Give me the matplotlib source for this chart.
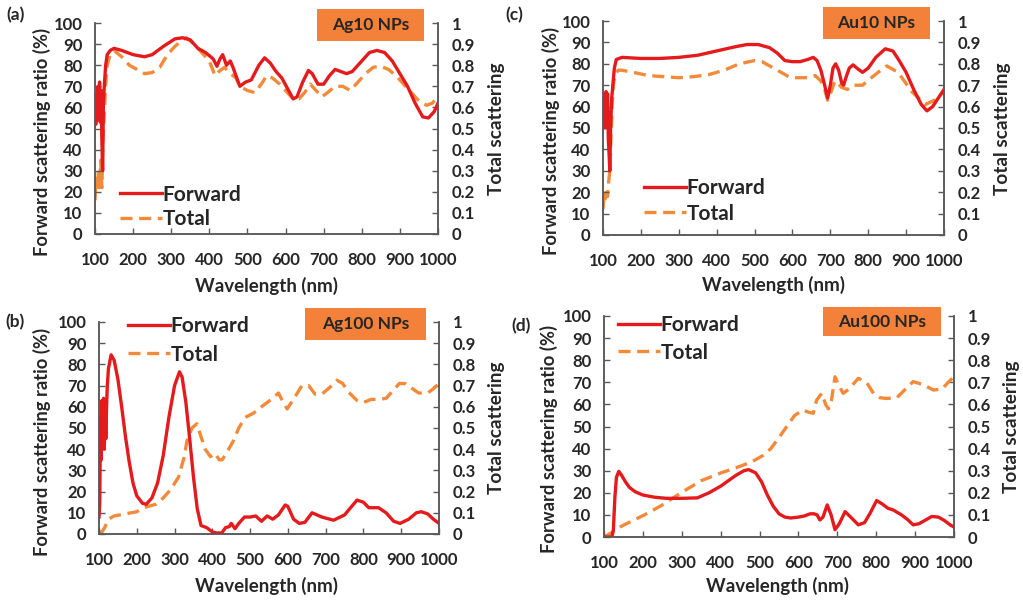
import matplotlib
matplotlib.use("Agg")
import matplotlib.pyplot as plt
from matplotlib.patches import Rectangle
from matplotlib.ticker import FuncFormatter

plt.rcParams['font.family'] = ['Lato', 'DejaVu Sans']

# ---------------- data ----------------
x_ticks = [100, 200, 300, 400, 500, 600, 700, 800, 900, 1000]
left_ticks = [0, 10, 20, 30, 40, 50, 60, 70, 80, 90, 100]
right_ticks = [0, 0.1, 0.2, 0.3, 0.4, 0.5, 0.6, 0.7, 0.8, 0.9, 1.0]

# (a) Ag10 NPs
ag10_fwd_wl = [100, 102, 104, 106, 108, 110, 112, 114, 116, 118, 120, 122, 125, 128, 132, 140, 150, 170, 200, 230,
               250, 280, 310, 330, 350, 370, 390, 410, 420, 428, 435, 445, 455, 462, 470, 480, 495, 510, 530, 545,
               560, 575, 590, 605, 620, 630, 645, 660, 670, 685, 700, 715, 730, 745, 760, 775, 795, 820, 840, 860,
               880, 900, 920, 940, 960, 975, 990, 1000]
ag10_fwd = [60, 52, 66, 54, 70, 57, 72, 53, 68, 45, 30, 62, 72, 80, 85, 87, 88, 87, 85, 84,
            85, 89, 92.5, 93, 92, 88, 86, 83, 79.5, 83, 85, 80, 82, 79, 75, 70, 72, 73, 80, 83.5,
            81, 77, 74, 69, 64, 65, 72, 77.5, 76, 71, 71, 75, 78, 77, 76, 77, 81, 86, 87, 86,
            82, 76, 70, 62, 55.5, 55, 58, 62]
ag10_tot_wl = [100, 103, 106, 109, 112, 115, 118, 121, 124, 127, 132, 140, 150, 170, 190, 210, 230, 250, 270, 290,
               310, 330, 340, 360, 380, 400, 415, 425, 440, 455, 470, 480, 500, 520, 540, 550, 565, 585, 600, 620,
               635, 650, 665, 680, 695, 710, 730, 750, 770, 790, 810, 830, 850, 870, 890, 910, 930, 950, 970, 985, 1000]
ag10_tot = [0.16, 0.26, 0.21, 0.30, 0.22, 0.35, 0.22, 0.45, 0.55, 0.68, 0.80, 0.85, 0.87, 0.84, 0.80, 0.78, 0.76, 0.765, 0.79, 0.85,
            0.89, 0.92, 0.93, 0.90, 0.86, 0.82, 0.75, 0.77, 0.79, 0.76, 0.74, 0.70, 0.68, 0.67, 0.72, 0.75, 0.74, 0.71, 0.68, 0.64,
            0.64, 0.67, 0.71, 0.68, 0.65, 0.67, 0.70, 0.70, 0.68, 0.72, 0.76, 0.79, 0.795, 0.78, 0.75, 0.71, 0.67, 0.63, 0.61, 0.62, 0.65]

# (c) Au10 NPs
au10_fwd_wl = [100, 102, 104, 106, 108, 110, 112, 114, 116, 118, 120, 123, 126, 130, 135, 150, 200, 250, 300, 350,
               400, 450, 480, 510, 540, 560, 580, 600, 620, 640, 655, 665, 675, 685, 693, 700, 707, 714, 722, 730,
               735, 742, 750, 760, 770, 785, 800, 820, 845, 865, 880, 900, 920, 940, 955, 970, 985, 1000]
au10_fwd = [65, 52, 66, 50, 67, 53, 66, 45, 38, 30, 50, 64, 70, 78, 82, 83, 82.5, 82.5, 83, 84,
            86, 88, 89, 89, 87.5, 85, 81.5, 81, 81, 82, 83, 81.5, 77, 70, 64, 70, 78, 80, 77, 71,
            70, 74, 78, 79.5, 78, 76, 78, 83, 87, 86, 82, 76, 68, 61, 58, 60, 64, 68]
au10_tot_wl = [100, 103, 106, 109, 112, 115, 118, 121, 124, 127, 132, 140, 150, 180, 220, 260, 300, 340, 380, 420,
               460, 500, 520, 550, 570, 590, 610, 640, 660, 675, 685, 693, 700, 712, 730, 745, 760, 785, 805, 826,
               849, 879, 915, 951, 975, 1000]
au10_tot = [0.12, 0.20, 0.17, 0.22, 0.18, 0.25, 0.30, 0.45, 0.60, 0.70, 0.75, 0.77, 0.77, 0.76, 0.745, 0.74, 0.735, 0.74, 0.75, 0.77,
            0.80, 0.815, 0.81, 0.78, 0.76, 0.74, 0.735, 0.735, 0.745, 0.72, 0.68, 0.63, 0.66, 0.72, 0.69, 0.68, 0.70, 0.70, 0.73, 0.76,
            0.79, 0.76, 0.67, 0.61, 0.63, 0.67]

# (b) Ag100 NPs
ag100_fwd_wl = [100, 102, 104, 106, 108, 110, 112, 114, 116, 118, 120, 122, 125, 132, 140, 150, 160, 170, 180, 190,
                200, 215, 225, 240, 255, 270, 285, 300, 313, 320, 330, 340, 350, 360, 370, 385, 400, 410, 425, 435,
                445, 450, 460, 470, 485, 500, 515, 530, 545, 560, 575, 593, 600, 615, 630, 645, 664, 690, 721, 750,
                783, 800, 814, 840, 860, 880, 897, 920, 940, 953, 970, 985, 1000]
ag100_fwd = [8, 15, 55, 35, 63, 42, 64, 40, 62, 45, 60, 70, 78, 84.5, 82, 73, 60, 46, 34, 24,
             18, 14.5, 14, 17, 24, 37, 55, 70, 76.5, 74, 62, 45, 27, 12, 4, 3, 1, 0.5, 0.5, 3,
             3.5, 5, 2.5, 5, 8, 8, 8.5, 6, 8.5, 7, 9, 13.7, 13, 7, 5, 5.5, 10, 8, 6.5, 9,
             16, 15, 12.4, 12.4, 10, 6, 5, 7, 10, 10.5, 9.5, 7, 5]
ag100_tot_wl = [100, 108, 115, 125, 140, 170, 200, 220, 250, 270, 290, 311, 325, 333, 346, 359, 368, 381, 395, 408,
                418, 426, 440, 456, 470, 487, 509, 530, 545, 560, 575, 585, 598, 620, 637, 655, 672, 690, 710, 730,
                745, 760, 783, 800, 820, 840, 860, 880, 895, 910, 930, 946, 970, 985, 1000]
ag100_tot = [0.01, 0.01, 0.03, 0.07, 0.085, 0.095, 0.105, 0.125, 0.14, 0.17, 0.21, 0.27, 0.36, 0.44, 0.50, 0.52, 0.47, 0.40, 0.365, 0.38,
             0.35, 0.35, 0.39, 0.44, 0.50, 0.55, 0.57, 0.60, 0.62, 0.64, 0.665, 0.63, 0.59, 0.65, 0.70, 0.70, 0.66, 0.66, 0.69, 0.725,
             0.71, 0.67, 0.63, 0.62, 0.635, 0.635, 0.64, 0.68, 0.71, 0.71, 0.685, 0.665, 0.665, 0.685, 0.71]

# (d) Au100 NPs
au100_fwd_wl = [100, 110, 120, 124, 128, 132, 138, 145, 155, 165, 180, 200, 230, 260, 300, 340, 370, 400, 420, 440,
                460, 472, 490, 505, 520, 535, 550, 565, 580, 600, 615, 630, 640, 648, 655, 663, 674, 684, 694, 705,
                720, 740, 754, 770, 785, 801, 815, 830, 844, 865, 880, 895, 910, 925, 943, 960, 975, 990, 1000]
au100_fwd = [0, 0, 0, 3, 18, 27, 29.7, 28, 25, 22.5, 20.5, 19, 18, 17.5, 17.5, 17.7, 20, 23, 25.5, 28,
             30, 30.5, 29, 25, 19, 14, 10.5, 9, 8.6, 9, 9.5, 10.5, 10.5, 10, 7.7, 9, 14.5, 10, 3.3, 6,
             11.5, 8, 5.5, 6.5, 11, 16.5, 15, 13, 12.2, 10, 8, 5.5, 6, 7.5, 9.3, 9, 7.5, 5.5, 4.5]
au100_tot_wl = [100, 110, 120, 130, 153, 204, 250, 298, 350, 401, 450, 480, 510, 529, 550, 570, 590, 612, 625, 638,
                647, 660, 670, 677, 685, 694, 703, 715, 730, 754, 775, 793, 810, 827, 853, 870, 895, 920, 947, 970,
                985, 1000]
au100_tot = [0.0, 0.01, 0.02, 0.035, 0.056, 0.10, 0.145, 0.20, 0.255, 0.29, 0.32, 0.34, 0.37, 0.40, 0.45, 0.50, 0.55, 0.575, 0.565, 0.56,
             0.62, 0.65, 0.60, 0.58, 0.62, 0.725, 0.69, 0.65, 0.67, 0.718, 0.70, 0.65, 0.63, 0.627, 0.63, 0.66, 0.703, 0.69, 0.665, 0.67,
             0.70, 0.725]

panel_titles = ["Ag10 NPs", "Au10 NPs", "Ag100 NPs", "Au100 NPs"]
panel_letters = ["(a)", "(c)", "(b)", "(d)"]
left_label = "Forward scattering ratio (%)"
right_label = "Total scattering"
x_label = "Wavelength (nm)"
legend_labels = ["Forward", "Total"]

# --------------- layout (pixels in a 1023x600 canvas) ---------------
W, H = 1023, 600
RED = '#E41A1C'
ORANGE = '#F28A3A'
BOX = '#F4813A'
TXT = '#262626'
SPINE = '#595959'

panels = [
    dict(ax=(95, 23, 438, 234), fwd=(ag10_fwd_wl, ag10_fwd), tot=(ag10_tot_wl, ag10_tot),
         box=(317, 9, 424, 41), letter=(6, 15), leg=(120, 207, 0.22),
         ylab=(-0.155, 0.436), rlab=(1.172, 0.50), xlab=(0.50, -0.245)),
    dict(ax=(603, 21, 944, 235), fwd=(au10_fwd_wl, au10_fwd), tot=(au10_tot_wl, au10_tot),
         box=(823, 7, 930, 39), letter=(505, 15), leg=(644, 201, 0.25),
         ylab=(-0.152, 0.44), rlab=(1.172, 0.495), xlab=(0.50, -0.235)),
    dict(ax=(99, 322, 439, 534), fwd=(ag100_fwd_wl, ag100_fwd), tot=(ag100_tot_wl, ag100_tot),
         box=(305, 308, 426, 340), letter=(5, 322), leg=(128, 340.5, 0.40),
         ylab=(-0.168, 0.434), rlab=(1.17, 0.50), xlab=(0.494, -0.245)),
    dict(ax=(604, 316, 954, 537), fwd=(au100_fwd_wl, au100_fwd), tot=(au100_tot_wl, au100_tot),
         box=(823, 307, 941, 336), letter=(511, 326), leg=(618, 339, 0.36),
         ylab=(-0.157, 0.443), rlab=(1.163, 0.498), xlab=(0.497, -0.222)),
]

fig = plt.figure(figsize=(W / 100, H / 100), dpi=100)
fig.patch.set_facecolor('white')

TICK_FS = 12
YLAB_FS = 13.2
RLAB_FS = 13.7
XLAB_FS = 13.5

for i, p in enumerate(panels):
    x0, y0, x1, y1 = p['ax']
    ax = fig.add_axes([x0 / W, 1 - y1 / H, (x1 - x0) / W, (y1 - y0) / H])
    ax2 = ax.twinx()
    ax.set_zorder(ax2.get_zorder() + 1)
    ax.patch.set_visible(False)

    l2, = ax2.plot(p['tot'][0], p['tot'][1], color=ORANGE, lw=2.4, dashes=(3.6, 2.0),
                   solid_capstyle='butt', label=legend_labels[1])
    l1, = ax.plot(p['fwd'][0], p['fwd'][1], color=RED, lw=2.4, label=legend_labels[0])

    ax.set_xlim(100, 1000)
    ax.set_ylim(0, 100)
    ax2.set_ylim(0, 1)
    ax.set_xticks(x_ticks)
    ax.set_yticks(left_ticks)
    ax2.set_yticks(right_ticks)
    ax2.yaxis.set_major_formatter(FuncFormatter(lambda v, pos: '0' if v == 0 else ('1' if abs(v - 1) < 1e-9 else f'{v:.1f}')))

    for a in (ax, ax2):
        for s in a.spines.values():
            s.set_color(SPINE)
            s.set_linewidth(1.1)
        a.spines['top'].set_visible(False)
    ax.tick_params(axis='both', direction='in', length=4, width=1.0, color=SPINE,
                   labelsize=TICK_FS, labelcolor=TXT)
    ax.tick_params(axis='y', pad=9)
    ax.tick_params(axis='x', pad=13)
    ax2.tick_params(axis='y', direction='in', length=4, width=1.0, color=SPINE,
                    labelsize=TICK_FS, labelcolor=TXT, pad=10)
    for lab in ax.get_xticklabels() + ax.get_yticklabels() + ax2.get_yticklabels():
        lab.set_fontweight('bold')

    ax.set_ylabel(left_label, fontsize=YLAB_FS, fontweight='bold', color=TXT, va='center')
    ax.yaxis.set_label_coords(*p['ylab'])
    ax2.set_ylabel(right_label, fontsize=RLAB_FS, fontweight='bold', color=TXT, va='center')
    ax2.yaxis.set_label_coords(*p['rlab'])
    ax.set_xlabel(x_label, fontsize=XLAB_FS, fontweight='bold', color=TXT, va='center')
    ax.xaxis.set_label_coords(*p['xlab'])

    # title box
    bx0, by0, bx1, by1 = p['box']
    fig.patches.append(Rectangle((bx0 / W, 1 - by1 / H), (bx1 - bx0) / W, (by1 - by0) / H,
                                 transform=fig.transFigure, facecolor=BOX, edgecolor='none', zorder=5))
    fig.text((bx0 + bx1) / 2 / W, 1 - (by0 + by1) / 2 / H, panel_titles[i], ha='center', va='center',
             fontsize=12.5, fontweight='bold', color=TXT, zorder=6)

    # panel letter
    fig.text(p['letter'][0] / W, 1 - p['letter'][1] / H, panel_letters[i], ha='left', va='center',
             fontsize=12.5, fontweight='bold', color=TXT)

    # legend
    lx, ly, ls = p['leg']
    ax.legend(handles=[l1, l2], loc='center left', bbox_to_anchor=(lx / W, 1 - ly / H),
              bbox_transform=fig.transFigure, frameon=False, borderpad=0,
              borderaxespad=0, handlelength=2.0, handletextpad=0.05, labelspacing=ls,
              prop={'weight': 'bold', 'size': 15})
    for t in ax.get_legend().get_texts():
        t.set_color(TXT)

fig.savefig('out.png', dpi=100, facecolor='white')
